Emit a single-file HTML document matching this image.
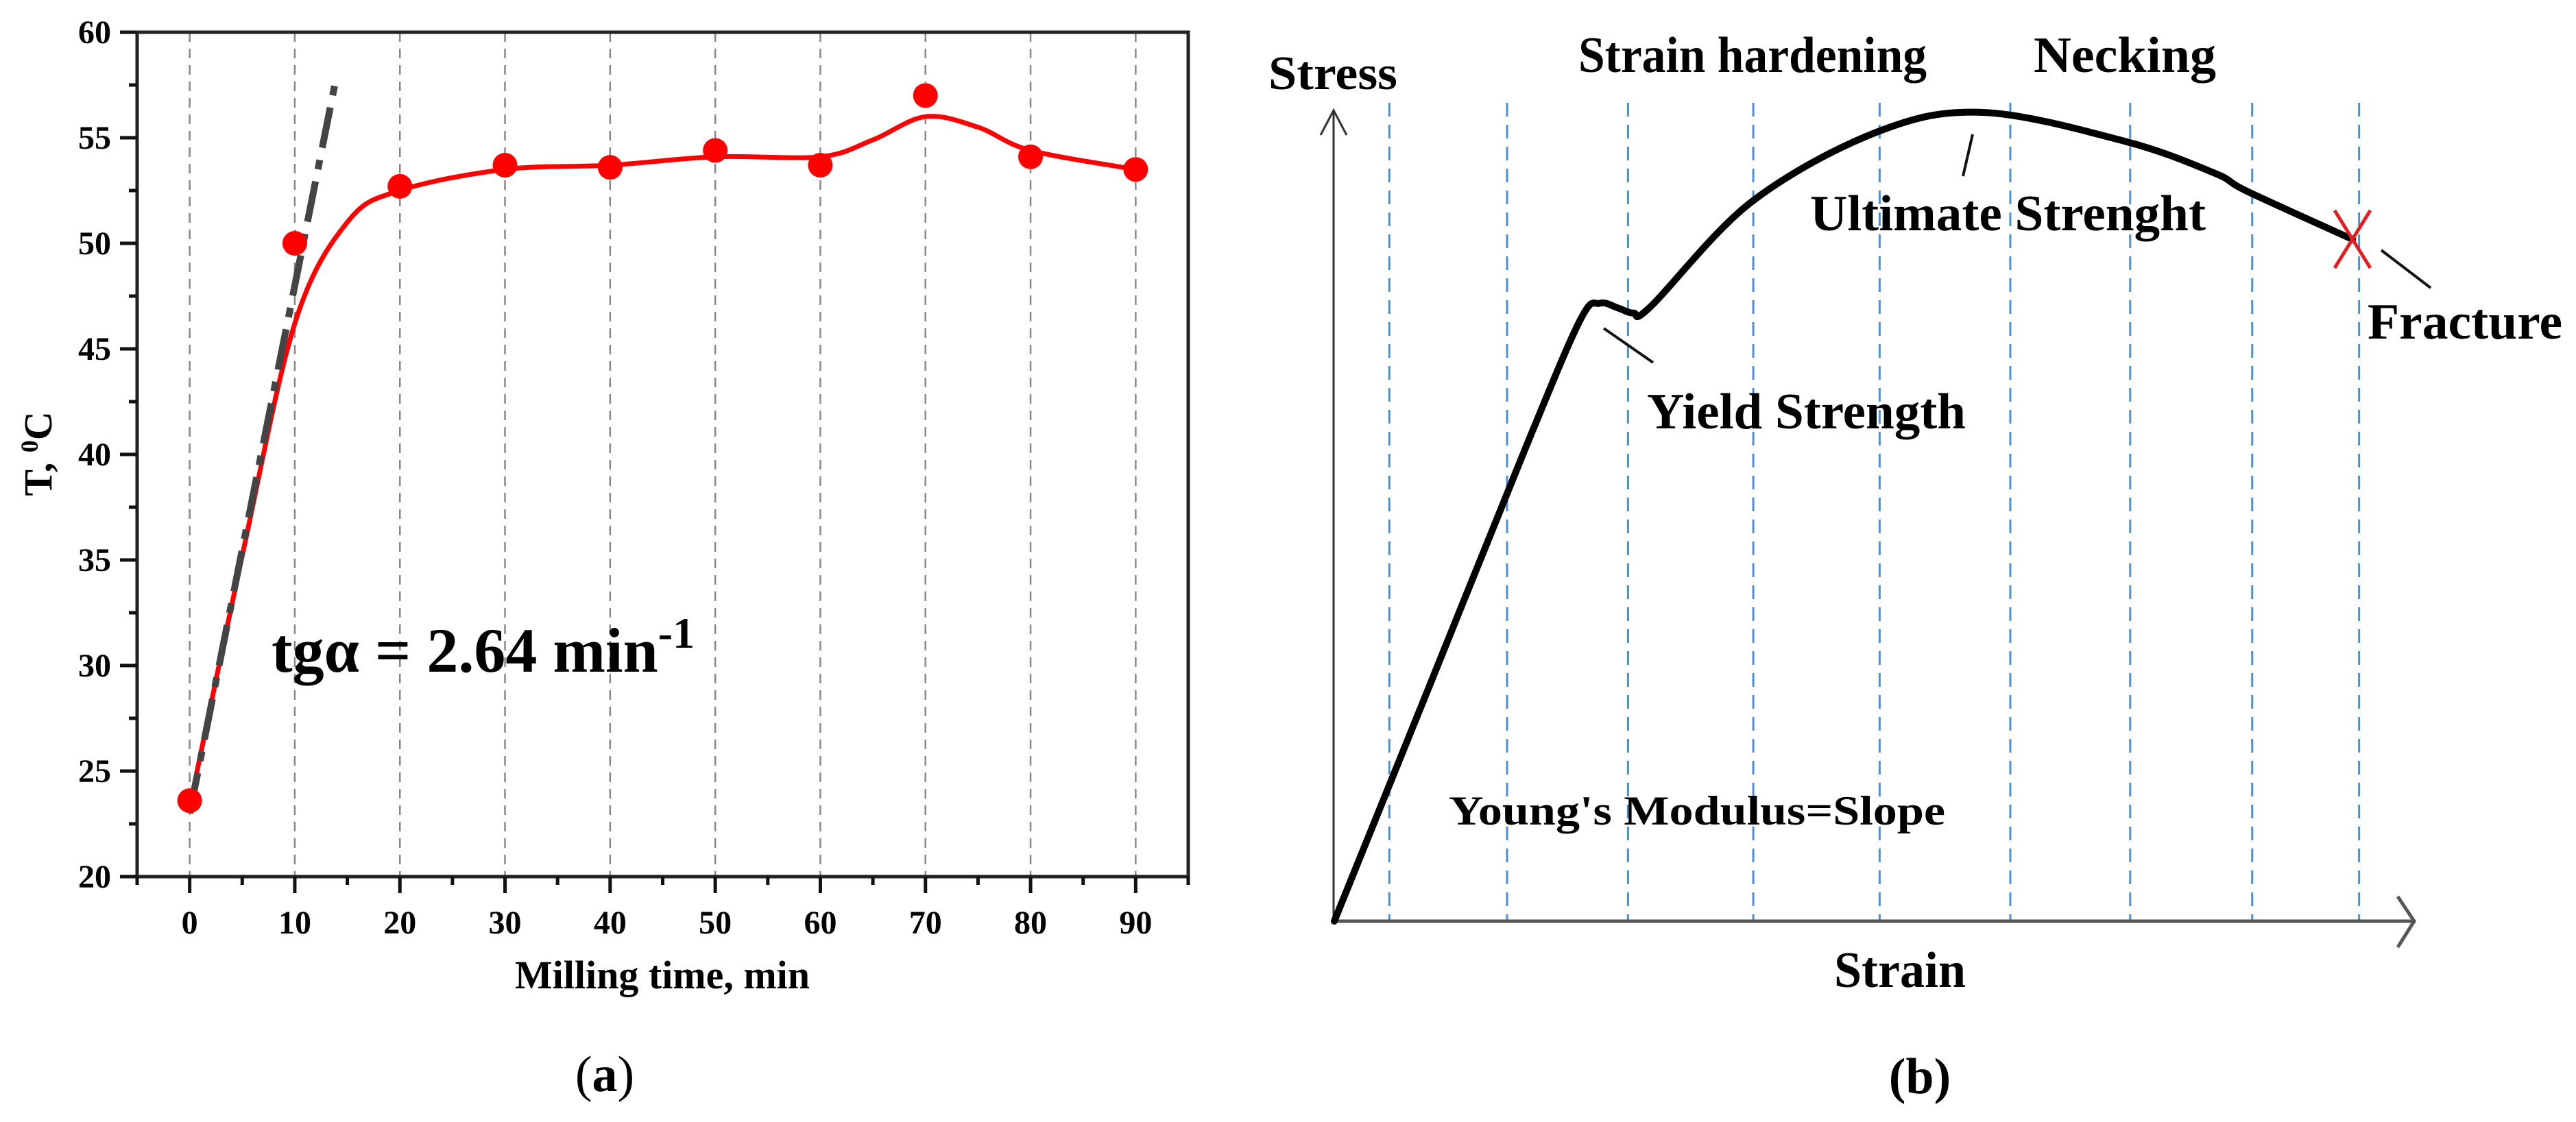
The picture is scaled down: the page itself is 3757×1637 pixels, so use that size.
<!DOCTYPE html>
<html><head><meta charset="utf-8"><style>
html,body{margin:0;padding:0;background:#fff;}
svg{display:block;font-family:"Liberation Serif",serif;}
</style></head><body>
<svg id="fig" width="3757" height="1637" viewBox="0 0 3757 1637" xmlns="http://www.w3.org/2000/svg">
<g id="pa"></g>
<g id="pb"></g>
</svg>
<script>
// ---------- Panel (a) data ----------
const timeValues = [0,10,20,30,40,50,60,70,80,90];
const tempValues = [23.6,50.0,52.7,53.7,53.6,54.4,53.7,57.0,54.1,53.5];
const fitTimes = [0,5,10,15,20,30,40,50,60,65,70,75,80,90];
const fitTemps = [23.3,35.2,46.2,51.0,52.5,53.5,53.7,54.1,54.1,54.9,56.0,55.5,54.4,53.5];
const tangentTimes = [0,14];
const tangentTemps = [23.0,58.0];
const xTickLabels = [0,10,20,30,40,50,60,70,80,90];
const yTickLabels = [20,25,30,35,40,45,50,55,60];

// ---------- Panel (b) data ----------
const strainValues = [0,9,17.8,22.8,24.6,26.3,27.7,29.3,38.6,50.3,60.1,73.3,81.5,84.6,94.3];
const stressValues = [0,29.7,58.8,74.4,76.4,75.8,75.2,76.0,88.9,97.6,100,96.4,92.5,90.2,84.3];
const gridStrains = [5.1,16,27.2,38.8,50.5,62.6,73.7,85,94.9];

const NS="http://www.w3.org/2000/svg";
function mk(parent,tag,attrs,text){const e=document.createElementNS(NS,tag);for(const k in attrs)e.setAttribute(k,attrs[k]);if(text!==undefined)e.textContent=text;parent.appendChild(e);return e;}
function smooth(pts){let d="M"+pts[0][0]+","+pts[0][1];for(let i=0;i<pts.length-1;i++){const p0=pts[Math.max(0,i-1)],p1=pts[i],p2=pts[i+1],p3=pts[Math.min(pts.length-1,i+2)];const c1=[p1[0]+(p2[0]-p0[0])/6,p1[1]+(p2[1]-p0[1])/6],c2=[p2[0]-(p3[0]-p1[0])/6,p2[1]-(p3[1]-p1[1])/6];d+=" C"+c1[0]+","+c1[1]+" "+c2[0]+","+c2[1]+" "+p2[0]+","+p2[1];}return d;}

// ---------- Panel (a) ----------
const pa=document.getElementById('pa');
const X0=200,X1=1733,Y0=47,Y1=1279;
const xA=t=>X0+(t+5)/100*(X1-X0);
const yA=v=>Y1-(v-20)/40*(Y1-Y0);
timeValues.forEach(t=>{
  const g=mk(pa,'line',{x1:xA(t),x2:xA(t),y1:Y0,y2:Y1,stroke:'#888','stroke-width':2.5,'stroke-dasharray':'14 10'});
  
  
});
const frame=mk(pa,'path',{d:`M${X0},${Y0} H${X1} V${Y1} H${X0} Z`,fill:'none',stroke:'#222','stroke-width':5});


for(let v=20;v<=60;v+=2.5){const maj=v%5===0;const t=mk(pa,'line',{x1:X0,x2:X0-(maj?25:12),y1:yA(v),y2:yA(v),stroke:'#111','stroke-width':5});
  
  }
yTickLabels.forEach(v=>{const l=mk(pa,'text',{x:162,y:yA(v)+16,'text-anchor':'end','font-size':48,'font-weight':'bold'},String(v));
  
  });
for(let t=-5;t<=95;t+=5){const maj=t%10===0;const k=mk(pa,'line',{x1:xA(t),x2:xA(t),y1:Y1,y2:Y1+(maj?24:12),stroke:'#111','stroke-width':5});
  
  }
xTickLabels.forEach(t=>{const l=mk(pa,'text',{x:xA(t),y:1362,'text-anchor':'middle','font-size':48,'font-weight':'bold'},String(t));
  
  });
const xt=mk(pa,'text',{x:966,y:1442,'text-anchor':'middle','font-size':58,'font-weight':'bold'},'Milling time, min');


const yt=mk(pa,'text',{transform:'translate(75,662) rotate(-90)','text-anchor':'middle','font-size':58,'font-weight':'bold'});


mk(yt,'tspan',{},'T, ');mk(yt,'tspan',{'font-size':36,dy:-20},'0');mk(yt,'tspan',{dy:20},'C');
const fitPts=fitTimes.map((t,i)=>[xA(t),yA(fitTemps[i])]);
const fc=mk(pa,'path',{d:smooth(fitPts),fill:'none',stroke:'#ff0000','stroke-width':7});


const tl=mk(pa,'line',{x1:xA(tangentTimes[0]),y1:yA(tangentTemps[0]),x2:xA(tangentTimes[1]),y2:yA(tangentTemps[1]),stroke:'#444','stroke-width':10,'stroke-dasharray':'60 18 14 18'});


timeValues.forEach((t,i)=>{const c=mk(pa,'circle',{cx:xA(t),cy:yA(tempValues[i]),r:18,fill:'#ff0000'});
  
  });
const an=mk(pa,'text',{x:396,y:980,'font-size':92,'font-weight':'bold'});


mk(an,'tspan',{},'tgα = 2.64 min');mk(an,'tspan',{dy:-35,'font-size':64},'-1');
const la=mk(pa,'text',{x:882,y:1592,'text-anchor':'middle','font-size':74});


mk(la,'tspan',{},'(');mk(la,'tspan',{'font-weight':'bold'},'a');mk(la,'tspan',{},')');

// ---------- Panel (b) ----------
const pb=document.getElementById('pb');
const xB=s=>1946+s*15.75;
const yB=v=>1344-v*11.8;
gridStrains.forEach(s=>{const g=mk(pb,'line',{x1:xB(s),x2:xB(s),y1:150,y2:1344,stroke:'#4a90d9','stroke-width':3,'stroke-dasharray':'20 12'});
  
  });
const ya=mk(pb,'path',{d:'M1945,1344 V161 M1926,197 L1945,161 L1964,197',fill:'none',stroke:'#333','stroke-width':3});


const xa=mk(pb,'path',{d:'M1946,1344 H3521 M3497,1308 L3521,1344 L3497,1382',fill:'none',stroke:'#555','stroke-width':5});


const bp=strainValues.map((s,i)=>[xB(s),yB(stressValues[i])]);
const sc=mk(pb,'path',{d:smooth(bp),fill:'none',stroke:'#000','stroke-width':10,'stroke-linecap':'round'});


[[2339,479,2411,529,'yield-leader'],[2877,196,2863,257,'ultimate-leader'],[3473,365,3545,420,'fracture-leader']].forEach(a=>{
  const l=mk(pb,'line',{x1:a[0],y1:a[1],x2:a[2],y2:a[3],stroke:'#111','stroke-width':4});
  
  });
const fx=mk(pb,'path',{d:'M3405,307 L3457,391 M3457,307 L3405,391',stroke:'#e02020','stroke-width':5,fill:'none'});


[['Stress',1850,130,70,188,'stress-label'],['Strain hardening',2302,105,74,508,'strain-hardening-label'],['Necking',2966,105,74,266,'necking-label'],
 ['Ultimate Strenght',2640,336,74,577,'ultimate-strength-label'],['Yield Strength',2402,625,74,465,'yield-strength-label'],
 ['Fracture',3453,494,74,284,'fracture-label'],["Young's Modulus=Slope",2113,1203,60,724,'youngs-modulus-label'],['Strain',2675,1440,74,192,'strain-label']].forEach(a=>{
  const t=mk(pb,'text',{x:a[1],y:a[2],'font-size':a[3],'font-weight':'bold',textLength:a[4],lengthAdjust:'spacingAndGlyphs'},a[0]);
  
  });
const lb=mk(pb,'text',{x:2800,y:1595,'text-anchor':'middle','font-size':74,'font-weight':'bold'},'(b)');


</script>
</body></html>
